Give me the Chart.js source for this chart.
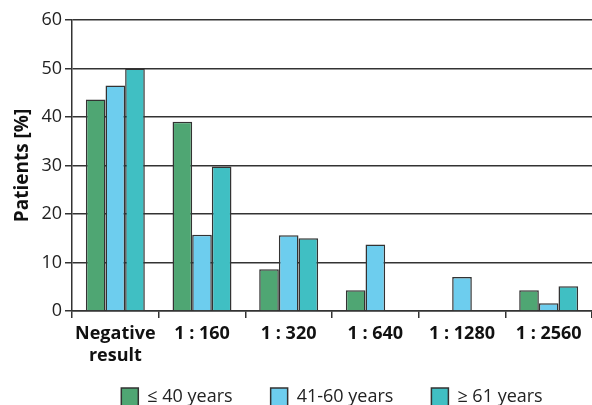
<!DOCTYPE html>
<html>
<head>
<meta charset="utf-8">
<script src="https://cdn.jsdelivr.net/npm/chart.js@4"></script>
<style>
html,body{margin:0;padding:0;background:#fff;overflow:hidden;}
#wrap{position:relative;width:592px;height:416px;}
</style>
</head>
<body>
<div id="wrap"><canvas id="c"></canvas></div>
<script>
const categories = [['Negative','result'], '1 : 160', '1 : 320', '1 : 640', '1 : 1280', '1 : 2560'];
const seriesNames = ['\u2264 40 years', '41-60 years', '\u2265 61 years'];
const upTo40 = [43.6, 39.0, 8.6, 4.3, null, 4.3];
const from41to60 = [46.5, 15.7, 15.6, 13.7, 7.0, 1.6];
const over61 = [50.0, 29.8, 15.0, null, null, 5.1];
const yTicks = [0, 10, 20, 30, 40, 50, 60];

const colors = ['#4fa673', '#6dcdee', '#40bfc3'];
const edge = '#333333';
const FONT = '"Open Sans", "Noto Sans", sans-serif';
const GAP = '\u00a0\u00a0\u00a0\u00a0\u00a0\u00a0';

new Chart(document.getElementById('c'), {
  type: 'bar',
  data: {
    labels: categories,
    datasets: [upTo40, from41to60, over61].map((d, i) => ({
      label: seriesNames[i],
      data: d,
      backgroundColor: colors[i],
      borderColor: edge,
      borderWidth: 1.5,
      categoryPercentage: 0.68,
      barPercentage: 1.0
    }))
  },
  options: {
    responsive: true,
    maintainAspectRatio: false,
    animation: false,
    layout: { padding: { top: 20, right: 0, left: 0, bottom: 0 } },
    plugins: {
      tooltip: { enabled: false },
      legend: {
        position: 'bottom',
        fullSize: false,
        labels: {
          boxWidth: 17,
          boxHeight: 18,
          padding: 10,
          color: '#222',
          font: { family: FONT, size: 18 },
          generateLabels: chart => {
            const items = Chart.defaults.plugins.legend.labels.generateLabels(chart);
            items.forEach((it, i) => { if (i < items.length - 1) it.text = it.text + GAP; });
            return items;
          }
        }
      }
    },
    scales: {
      x: {
        offset: true,
        grid: { offset: true, drawOnChartArea: false, drawTicks: true, tickLength: 7, color: edge, lineWidth: 1.5 },
        border: { display: true, color: edge, width: 1.5 },
        ticks: { color: '#111', padding: 5, maxRotation: 0, autoSkip: false, font: { family: FONT, size: 18, weight: 'bold' } },
        afterFit: s => { s.height = 67; }
      },
      y: {
        min: 0, max: 60,
        afterBuildTicks: s => { s.ticks = yTicks.map(v => ({ value: v })); },
        grid: { color: edge, lineWidth: 1.5, tickLength: 7, drawTicks: true },
        border: { display: true, color: edge, width: 1.5 },
        ticks: { color: '#222', padding: 3, font: { family: FONT, size: 18 } },
        title: { display: true, text: 'Patients [%]', color: '#111', padding: { top: 11, bottom: 0 }, font: { family: FONT, size: 19, weight: 'bold' } },
        afterFit: s => { s.width = 72; }
      }
    }
  }
});
</script>
</body>
</html>
